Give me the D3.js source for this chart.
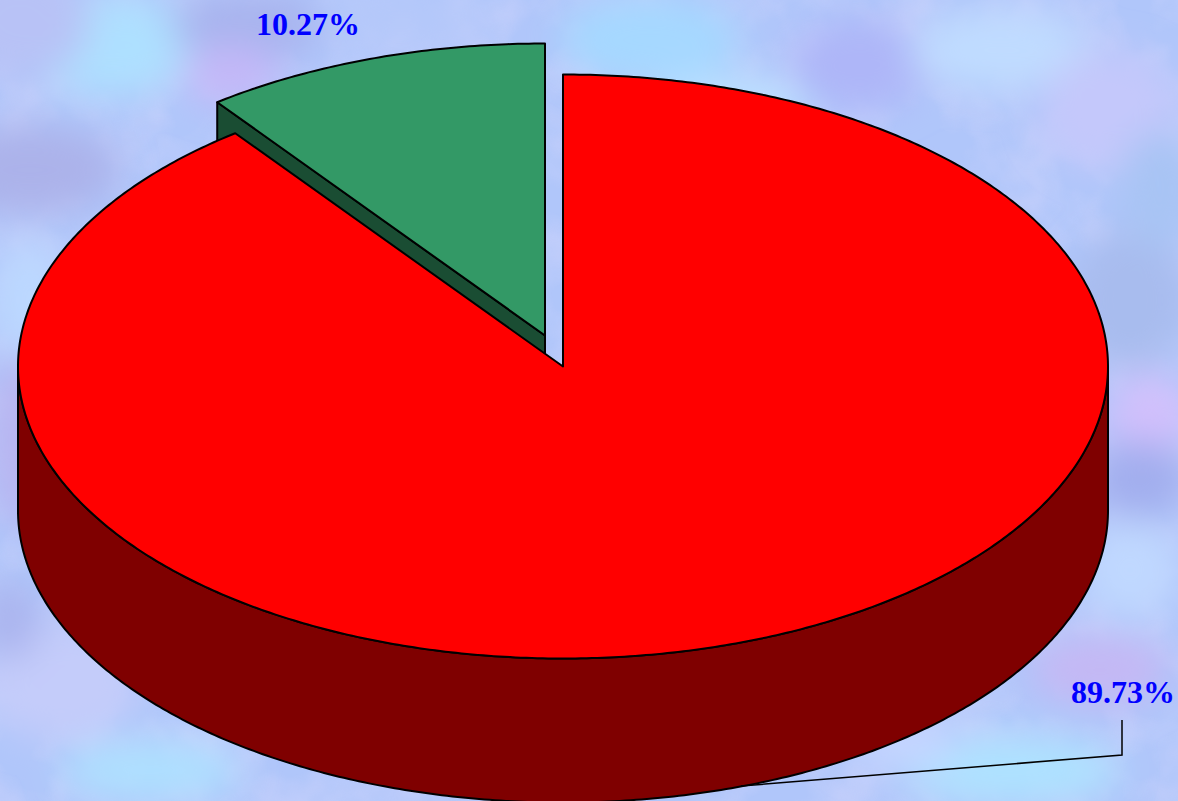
<!DOCTYPE html>
<html>
<head>
<meta charset="utf-8">
<script src="https://cdn.jsdelivr.net/npm/d3@7"></script>
<style>
  html, body { margin: 0; padding: 0; background: #b0c4fa; overflow: hidden; }
  svg { display: block; }
</style>
</head>
<body>
<div id="chart"></div>
<script>
// chart values
var categories = ["red", "green"];
var values = [89.73, 10.27];
var labels = ["89.73%", "10.27%"];
var topColors = ["#ff0000", "#339966"];
var sideColors = ["#7f0000", "#1a4d33"];

// mottled page background, hand placed [x, y, rx, ry, colour]
var bgPatches = [
    [110, 45, 90, 50, "#aee0ff"], [20, 20, 70, 60, "#b8c2f6"], [30, 170, 90, 45, "#acb2ea"],
    [250, 25, 80, 35, "#a8b4ee"], [230, 75, 50, 30, "#c4b8f8"], [650, 40, 90, 45, "#a6d8ff"],
    [730, 110, 80, 35, "#bce0ff"], [860, 65, 70, 45, "#aeb6f8"], [1000, 50, 90, 40, "#c0dcff"],
    [1110, 110, 70, 60, "#c4c8fb"], [1130, 300, 60, 70, "#a8bcee"], [1150, 415, 45, 40, "#d2c0fc"],
    [1140, 480, 50, 40, "#a2aeee"], [1130, 570, 50, 50, "#c0d8ff"], [1100, 670, 70, 35, "#c4b8f4"],
    [1010, 770, 110, 35, "#aee2ff"], [900, 740, 60, 30, "#c4d4ff"], [60, 680, 80, 60, "#c4ccfa"],
    [150, 770, 90, 30, "#aee0ff"], [20, 440, 30, 90, "#b8b4f0"], [30, 300, 40, 60, "#bcd8ff"],
    [1160, 190, 40, 60, "#a8c4f4"], [400, 20, 90, 25, "#b4c8fa"], [10, 620, 30, 40, "#aab4ee"]
];

var width = 1178,
    height = 801,
    cx = 563,
    cy = 366.5,
    rx = 545,
    ry = 292,
    depth = 144,
    explodeX = -18,
    explodeY = -31;

// unit circle to pixels
var xScale = d3.scaleLinear().domain([-1, 1]).range([cx - rx, cx + rx]);
var yScale = d3.scaleLinear().domain([-1, 1]).range([cy - ry, cy + ry]);

var svg = d3.select("#chart").append("svg")
    .attr("width", width)
    .attr("height", height);

var defs = svg.append("defs");
defs.append("filter").attr("id", "soft")
    .attr("x", "-60%").attr("y", "-60%").attr("width", "220%").attr("height", "220%")
    .append("feGaussianBlur").attr("stdDeviation", 18);

var noise = defs.append("filter").attr("id", "noise")
    .attr("x", 0).attr("y", 0).attr("width", "100%").attr("height", "100%");
noise.append("feTurbulence")
    .attr("type", "fractalNoise").attr("baseFrequency", 0.018)
    .attr("numOctaves", 3).attr("seed", 7);
noise.append("feColorMatrix").attr("type", "matrix")
    .attr("values", "0 0 0 0 0.72  0 0 0 0 0.70  0 0 0 0 0.98  1.6 0 0 0 -0.55");

//background
svg.append("rect").attr("width", width).attr("height", height).attr("fill", "#b0c6fa");
svg.append("rect").attr("width", width).attr("height", height).attr("filter", "url(#noise)").attr("opacity", 0.5);
svg.append("g").attr("filter", "url(#soft)")
    .selectAll("ellipse").data(bgPatches).enter()
    .append("ellipse")
    .attr("cx", function (d) { return d[0]; })
    .attr("cy", function (d) { return d[1]; })
    .attr("rx", function (d) { return d[2]; })
    .attr("ry", function (d) { return d[3]; })
    .attr("fill", function (d) { return d[4]; });

// slices run clockwise from twelve o'clock, red first
var slices = d3.pie().sort(null)(values);

var line = d3.line();

function rim(angle, dx, dy) {
    return [xScale(Math.sin(angle)) + dx, yScale(-Math.cos(angle)) + dy];
}

function rimPoints(a0, a1, dx, dy) {
    var n = Math.ceil(Math.abs(a1 - a0) / 0.01);
    return d3.range(n + 1).map(function (i) {
        return rim(a0 + (a1 - a0) * i / n, dx, dy);
    });
}

function outline(sel, fill, points) {
    sel.append("path")
        .attr("d", line(points) + "Z")
        .attr("fill", fill)
        .attr("stroke", "#000")
        .attr("stroke-width", 2)
        .attr("stroke-linejoin", "round");
}

var pieArea = svg.append("g");

// green slice goes first, the red one covers most of its wall
var green = slices[1];
var apexG = [xScale(0) + explodeX, yScale(0) + explodeY];
var edgeG = rim(green.startAngle, explodeX, explodeY);
outline(pieArea, sideColors[1], [
    apexG, edgeG, [edgeG[0], edgeG[1] + depth], [apexG[0], apexG[1] + depth]
]);
outline(pieArea, topColors[1], [apexG].concat(rimPoints(green.startAngle, green.endAngle, explodeX, explodeY)));

// red wall, only the front half of the rim shows
var red = slices[0];
var wallTop = rimPoints(Math.PI / 2, 3 * Math.PI / 2, 0, 0);
var wallBottom = rimPoints(3 * Math.PI / 2, Math.PI / 2, 0, depth);
outline(pieArea, sideColors[0], wallTop.concat(wallBottom));
outline(pieArea, topColors[0], [[xScale(0), yScale(0)]].concat(rimPoints(red.startAngle, red.endAngle, 0, 0)));

// leader for the big slice
svg.append("path")
    .attr("d", line([[741, 786], [1122, 755], [1122, 720]]))
    .attr("fill", "none")
    .attr("stroke", "#000")
    .attr("stroke-width", 1.5);

// labels
svg.selectAll("text.pct").data(labels).enter()
    .append("text")
    .attr("class", "pct")
    .attr("x", function (d, i) { return i == 0 ? 1123 : 308; })
    .attr("y", function (d, i) { return i == 0 ? 703 : 35; })
    .attr("text-anchor", "middle")
    .style("font-family", "'Liberation Serif', serif")
    .style("font-weight", "bold")
    .style("font-size", "32px")
    .style("fill", "#0000ff")
    .text(function (d) { return d; });
</script>
</body>
</html>
